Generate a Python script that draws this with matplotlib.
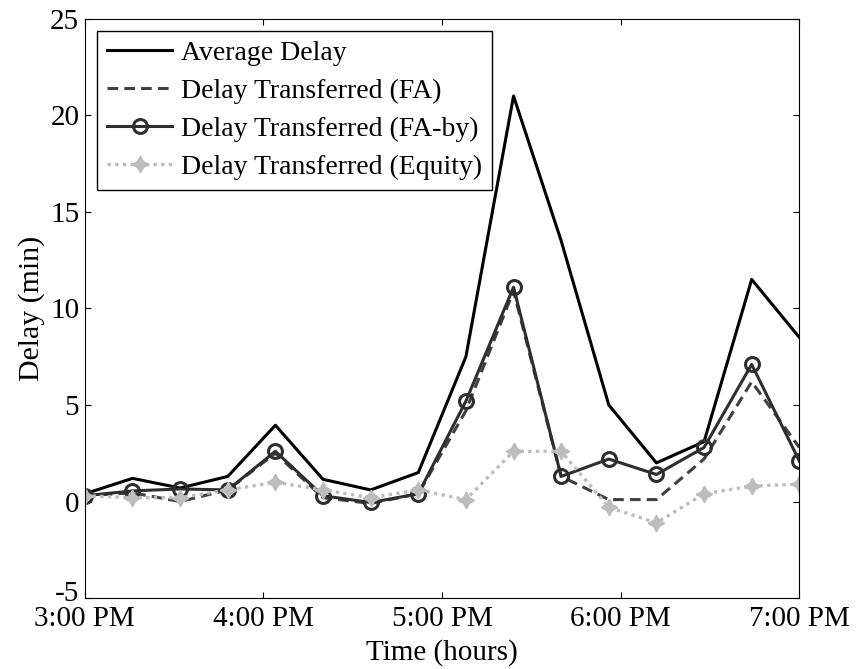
import matplotlib
matplotlib.use("Agg")
import matplotlib.pyplot as plt
import matplotlib.transforms as mtransforms

# minutes after 3:00 PM
minutes = [0, 16, 32, 48, 64, 80, 96, 112, 128, 144, 160, 176, 192, 208, 224, 240]

avg_delay = [0.4, 1.2, 0.7, 1.3, 3.95, 1.15, 0.6, 1.5, 7.5, 21.0, 13.5, 5.0, 2.0, 3.1, 11.5, 8.5]
fa = [0.3, 0.45, 0.0, 0.6, 2.5, 0.2, -0.1, 0.4, 4.7, 10.9, 1.3, 0.1, 0.1, 2.2, 6.2, 2.8]
fa_by = [0.3, 0.55, 0.65, 0.6, 2.6, 0.3, -0.05, 0.4, 5.2, 11.1, 1.3, 2.2, 1.4, 2.8, 7.1, 2.1]
equity = [0.3, 0.2, 0.2, 0.6, 1.0, 0.6, 0.2, 0.6, 0.1, 2.6, 2.6, -0.3, -1.1, 0.4, 0.8, 0.9]

tick_pos = [0, 60, 120, 180, 240]
tick_labels = ["3:00 PM", "4:00 PM", "5:00 PM", "6:00 PM", "7:00 PM"]

plt.rcParams['font.family'] = ['Liberation Serif', 'DejaVu Serif']
plt.rcParams['axes.unicode_minus'] = False

fig = plt.figure(figsize=(8.66, 6.69), dpi=100)
ax = fig.add_axes([0.098, 0.106, 0.825, 0.866])

ax.plot(minutes, avg_delay, color='black', linewidth=2.2, label='Average Delay')
ax.plot(minutes, fa, color='#404040', linewidth=2.2, linestyle=(0, (3.5, 2)), label='Delay Transferred (FA)')
ax.plot(minutes, fa_by, color='#2e2e2e', linewidth=2.2, marker='o', markersize=10,
        markerfacecolor='none', markeredgewidth=2.2, label='Delay Transferred (FA-by)')
ax.plot(minutes, equity, color='#bdbdbd', linewidth=2.4, linestyle=(0, (1, 1.3)),
        marker=(4, 1, 0), markersize=12, label='Delay Transferred (Equity)')

ax.set_xlim(0, 240)
ax.set_ylim(-5, 25)
ax.set_xticks(tick_pos)
ax.set_xticklabels(tick_labels)
ax.set_yticks([-5, 0, 5, 10, 15, 20, 25])
ax.tick_params(direction='in', length=4, width=0.8, labelsize=21, top=True, right=True)
ax.tick_params(axis='x', pad=6)
ax.tick_params(axis='y', pad=4)

# nudge the -5 label up so it clears the 3:00 PM label
lab = ax.get_yticklabels()[0]
lab.set_transform(lab.get_transform() + mtransforms.ScaledTranslation(0, 5 / 72, fig.dpi_scale_trans))

ax.set_xlabel('Time (hours)', fontsize=21, labelpad=5)
ax.set_ylabel('Delay (min)', fontsize=21.5, labelpad=4)

leg = ax.legend(loc='upper left', fontsize=20, frameon=True, fancybox=False,
                edgecolor='black', framealpha=1, handlelength=2.37, handletextpad=0.3,
                labelspacing=0.45, borderpad=0.35, borderaxespad=0,
                bbox_to_anchor=(0.0168, 0.979))
leg.get_frame().set_linewidth(1.0)

plt.savefig('out.png', dpi=100)
